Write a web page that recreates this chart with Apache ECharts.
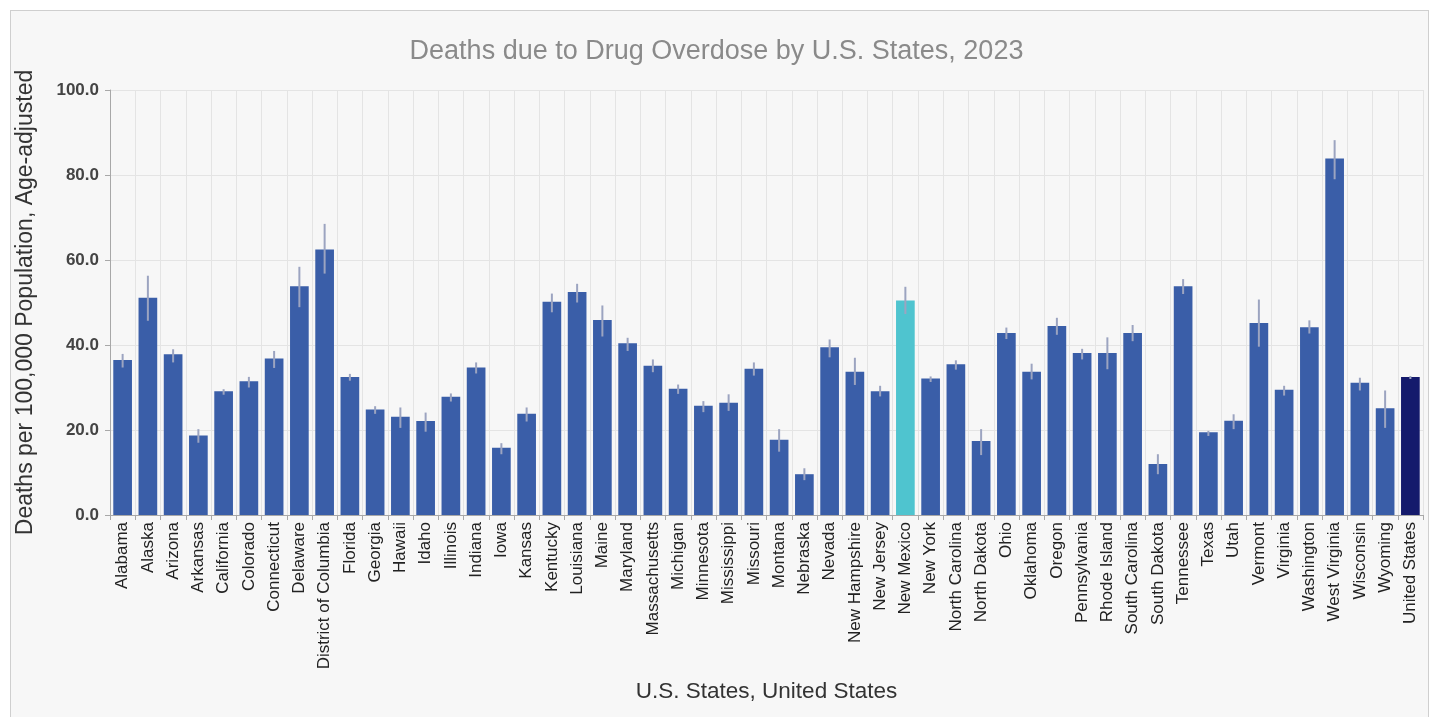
<!DOCTYPE html>
<html><head><meta charset="utf-8">
<script src="https://cdn.jsdelivr.net/npm/echarts@6/dist/echarts.min.js"></script>
<style>
html,body{margin:0;padding:0;background:#fff;width:1433px;height:717px;overflow:hidden;}
#box{position:absolute;left:10px;top:10px;width:1417px;height:720px;border:1px solid #cfcfcf;background:#f7f7f7;}
#c{position:absolute;left:0;top:0;width:1433px;height:717px;}
</style></head>
<body><div id="box"></div><div id="c"></div>
<script>
const categories = ["Alabama","Alaska","Arizona","Arkansas","California","Colorado","Connecticut","Delaware","District of Columbia","Florida","Georgia","Hawaii","Idaho","Illinois","Indiana","Iowa","Kansas","Kentucky","Louisiana","Maine","Maryland","Massachusetts","Michigan","Minnesota","Mississippi","Missouri","Montana","Nebraska","Nevada","New Hampshire","New Jersey","New Mexico","New York","North Carolina","North Dakota","Ohio","Oklahoma","Oregon","Pennsylvania","Rhode Island","South Carolina","South Dakota","Tennessee","Texas","Utah","Vermont","Virginia","Washington","West Virginia","Wisconsin","Wyoming","United States"];
const rates = [36.5,51.1,37.8,18.7,29.1,31.5,36.8,53.8,62.5,32.5,24.8,23.1,22.1,27.8,34.7,15.8,23.8,50.2,52.5,45.9,40.4,35.1,29.7,25.7,26.4,34.4,17.7,9.6,39.5,33.7,29.1,50.5,32.1,35.5,17.4,42.8,33.7,44.5,38.1,38.1,42.8,12.0,53.8,19.5,22.2,45.2,29.5,44.2,83.9,31.1,25.1,32.5];
const lowerCI = [34.7,45.7,35.9,17.0,28.3,30.0,34.6,48.9,56.8,31.6,23.8,20.5,19.6,26.7,33.3,14.3,22.0,47.7,50.0,42.0,38.6,33.6,28.5,24.2,24.5,32.8,14.9,8.2,37.1,30.6,27.9,47.3,31.3,34.2,14.1,41.4,31.9,42.4,36.6,34.3,40.9,9.6,52.0,18.6,20.2,39.6,28.1,42.7,79.0,29.3,20.5,32.0];
const upperCI = [37.9,56.3,39.0,20.2,29.6,32.5,38.6,58.4,68.5,33.2,25.6,25.3,24.1,28.6,35.9,16.9,25.3,52.1,54.4,49.3,41.7,36.6,30.7,26.8,28.4,35.9,20.2,11.0,41.3,37.0,30.4,53.7,32.6,36.4,20.2,44.1,35.6,46.4,39.1,41.8,44.7,14.3,55.5,19.8,23.7,50.7,30.4,45.8,88.2,32.3,29.3,32.7];
const yTicks = {min:0, max:100, interval:20};

const chart = echarts.init(document.getElementById('c'), null, {renderer:'canvas'});
const font = '"Liberation Sans", Arial, sans-serif';
const errData = categories.map((c,i)=>[i, lowerCI[i], upperCI[i]]);
chart.setOption({
  backgroundColor:'transparent',
  animation:false,
  title:{text:'Deaths due to Drug Overdose by U.S. States, 2023', left:'center', top:33,
    textStyle:{fontFamily:font, fontSize:27, fontWeight:'normal', color:'#8a8a8a'}},
  grid:{left:110, right:10, top:90, height:425},
  xAxis:{type:'category', data:categories,
    name:'U.S. States, United States', nameLocation:'middle', nameGap:165,
    nameTextStyle:{fontFamily:font, fontSize:22.5, color:'#333'},
    axisLine:{lineStyle:{color:'#a8a8a8'}},
    axisTick:{show:true, alignWithLabel:false, length:5, lineStyle:{color:'#a8a8a8'}},
    axisLabel:{rotate:90, interval:0, margin:7, fontFamily:font, fontSize:17, color:'#222'},
    splitLine:{show:true, interval:0, lineStyle:{color:'#e4e4e4'}}
  },
  yAxis:{type:'value', min:yTicks.min, max:yTicks.max, interval:yTicks.interval,
    name:'Deaths per 100,000 Population, Age-adjusted', nameLocation:'middle', nameGap:73, nameRotate:90,
    nameTextStyle:{fontFamily:font, fontSize:23, color:'#333'},
    axisLine:{show:true, lineStyle:{color:'#a8a8a8'}},
    axisTick:{show:true, length:5, lineStyle:{color:'#a8a8a8'}},
    axisLabel:{formatter:v=>v.toFixed(1), margin:11, fontFamily:font, fontSize:17, fontWeight:'bold', color:'#444'},
    splitLine:{lineStyle:{color:'#e4e4e4'}}
  },
  series:[
    {type:'bar', data:rates, barWidth:'74%',
      itemStyle:{color:p=> p.name==='New Mexico' ? '#4fc4cf' : (p.name==='United States' ? '#141a6c' : '#3a5ea8')}},
    {type:'custom', data:errData, z:5,
      renderItem:(params, api)=>{
        const lo = api.coord([api.value(0), api.value(1)]);
        const hi = api.coord([api.value(0), api.value(2)]);
        return {type:'line', shape:{x1:lo[0], y1:lo[1], x2:hi[0], y2:hi[1]},
          style:{stroke:'#9ca4c0', lineWidth:2}};
      }}
  ]
});
</script></body></html>
